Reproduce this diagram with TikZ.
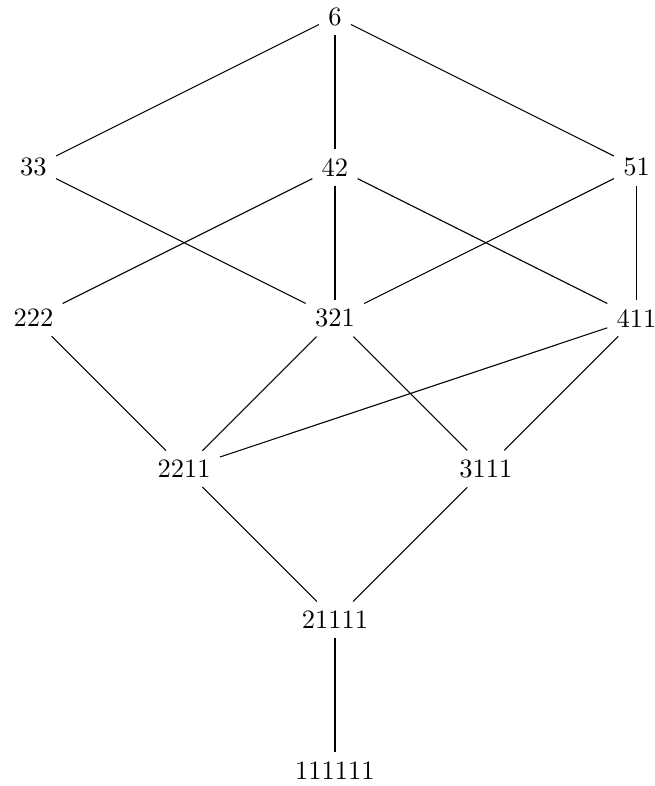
\documentclass[tikz,border=0pt]{standalone}
\usepackage{tikz}

\begin{document}
\begin{tikzpicture}[x=2cm, y=2cm]
  % Partitions of 6, ordered by dominance
  \node (p6) at (0,0) {6};
  \node (p33) at (-2,-1) {33};
  \node (p42) at (0,-1) {42};
  \node (p51) at (2,-1) {51};
  \node (p222) at (-2,-2) {222};
  \node (p321) at (0,-2) {321};
  \node (p411) at (2,-2) {411};
  \node (p2211) at (-1,-3) {2211};
  \node (p3111) at (1,-3) {3111};
  \node (p21111) at (0,-4) {21111};
  \node (p111111) at (0,-5) {111111};
  % Covering relations
  \foreach \a/\b in {p6/p33, p6/p42, p6/p51,
                     p33/p321, p42/p222, p42/p321, p42/p411, p51/p321, p51/p411,
                     p222/p2211, p321/p2211, p321/p3111, p411/p2211, p411/p3111,
                     p2211/p21111, p3111/p21111, p21111/p111111}{
    \draw (\a) -- (\b);
  }
  % Frame as in the original
  \pgfresetboundingbox
  \useasboundingbox (-4.443cm,0.219cm) rectangle (4.244cm,-10.206cm);
\end{tikzpicture}
\end{document}
